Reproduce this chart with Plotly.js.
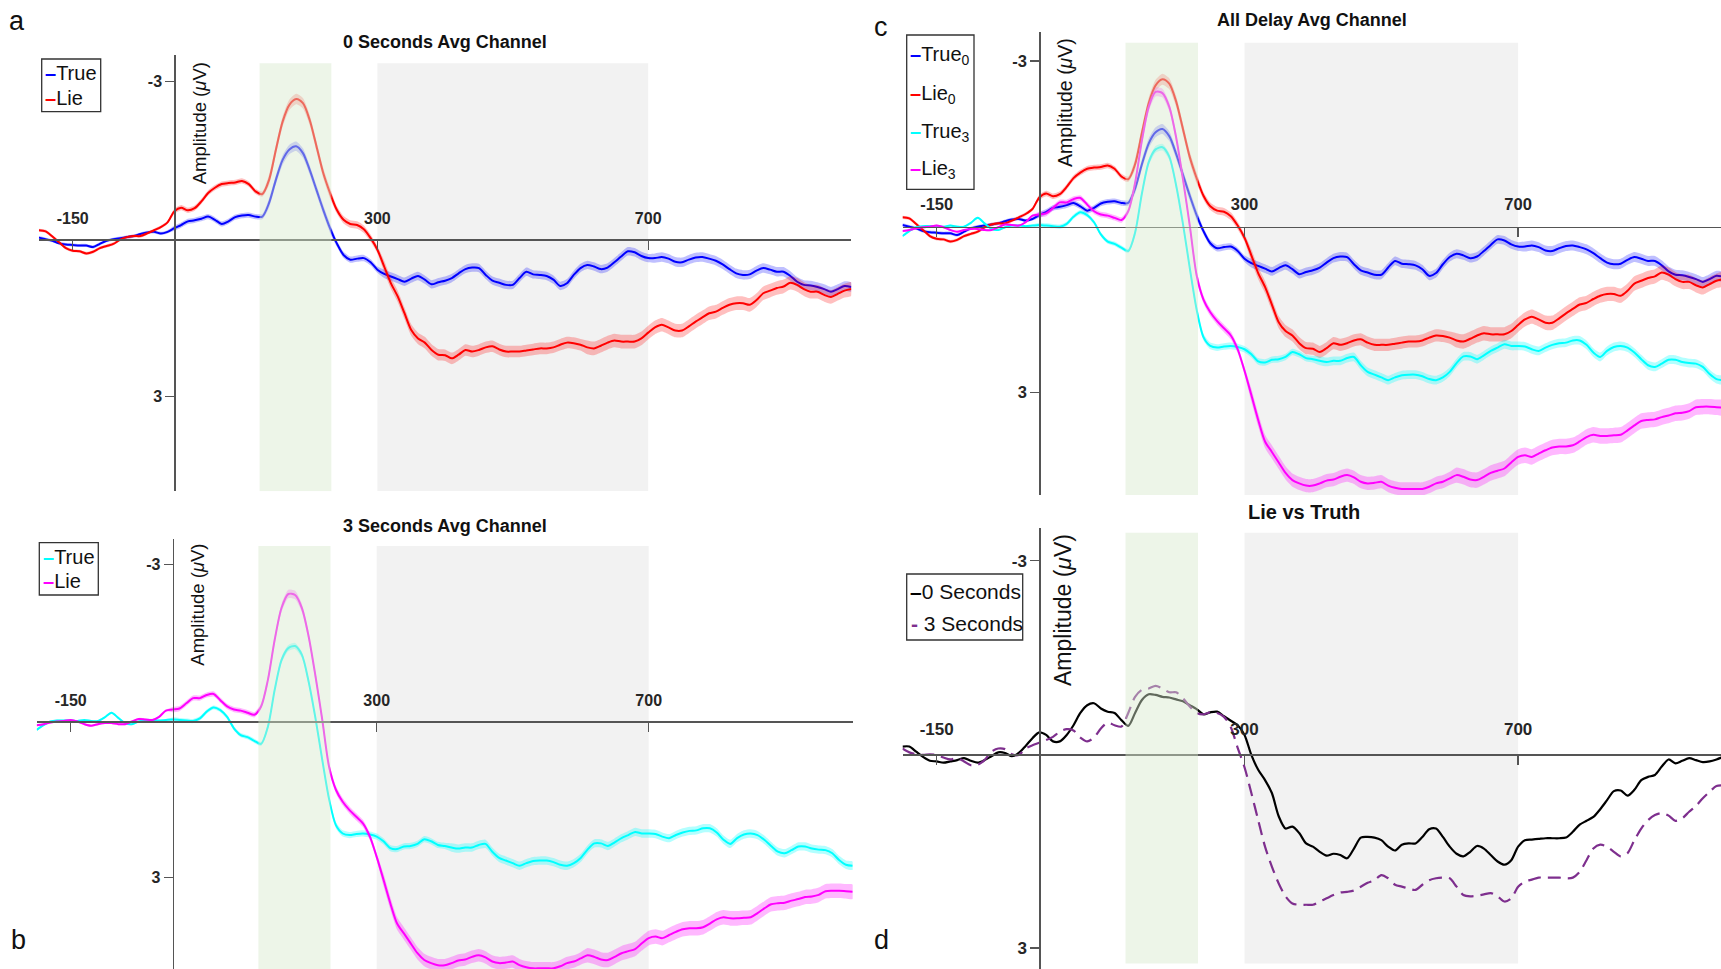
<!DOCTYPE html>
<html><head><meta charset="utf-8">
<script src="https://cdn.plot.ly/plotly-3.0.1.min.js"></script>
<style>html,body{margin:0;padding:0;background:#fff;}#chart{width:1721px;height:969px;}</style>
</head><body><div id="chart"></div>
<script>
// ---------- data ----------
const timeMs = [-200,-190,-180,-170,-160,-150,-140,-130,-120,-110,
 -100,-90,-80,-70,-60,-50,-40,-30,-20,-10,
 0,10,20,30,40,50,60,70,80,90,
 100,110,120,130,140,150,160,170,180,190,
 200,210,220,230,240,250,260,270,280,290,
 300,310,320,330,340,350,360,370,380,390,
 400,410,420,430,440,450,460,470,480,490,
 500,510,520,530,540,550,560,570,580,590,
 600,610,620,630,640,650,660,670,680,690,
 700,710,720,730,740,750,760,770,780,790,
 800,810,820,830,840,850,860,870,880,890,
 900,910,920,930,940,950,960,970,980,990,1000];

// 0 s delay, truthful (True0)
const true0 = [-0.03,0.00,0.03,0.08,0.10,0.11,0.12,0.12,0.15,0.09,
 0.03,0.00,-0.02,-0.04,-0.06,-0.10,-0.13,-0.14,-0.11,-0.14,
 -0.21,-0.27,-0.34,-0.36,-0.39,-0.43,-0.37,-0.29,-0.34,-0.42,
 -0.45,-0.46,-0.43,-0.43,-0.69,-1.13,-1.51,-1.71,-1.77,-1.64,
 -1.32,-0.94,-0.56,-0.21,0.08,0.30,0.39,0.37,0.36,0.44,
 0.58,0.66,0.71,0.76,0.81,0.75,0.70,0.77,0.86,0.82,
 0.79,0.74,0.65,0.57,0.54,0.55,0.68,0.79,0.83,0.87,
 0.87,0.74,0.62,0.67,0.68,0.70,0.77,0.89,0.84,0.68,
 0.55,0.49,0.52,0.57,0.54,0.44,0.33,0.23,0.25,0.32,
 0.36,0.36,0.34,0.37,0.43,0.44,0.39,0.35,0.34,0.37,
 0.41,0.48,0.57,0.65,0.68,0.67,0.60,0.55,0.58,0.62,
 0.62,0.70,0.81,0.87,0.88,0.91,0.95,1.00,0.95,0.89,0.91];
// 0 s delay, lie (Lie0)
const lie0 = [-0.17,-0.15,-0.05,0.06,0.17,0.22,0.23,0.27,0.24,0.17,
 0.13,0.09,0.01,-0.04,-0.06,-0.06,-0.11,-0.17,-0.23,-0.32,
 -0.53,-0.60,-0.55,-0.59,-0.72,-0.88,-0.98,-1.05,-1.07,-1.08,
 -1.11,-1.05,-0.91,-0.86,-1.13,-1.70,-2.24,-2.56,-2.67,-2.59,
 -2.27,-1.77,-1.26,-0.88,-0.56,-0.37,-0.29,-0.27,-0.19,-0.02,
 0.20,0.52,0.84,1.09,1.41,1.73,1.89,1.97,2.11,2.20,
 2.21,2.27,2.20,2.11,2.14,2.11,2.06,2.04,2.10,2.14,
 2.14,2.14,2.12,2.10,2.08,2.08,2.06,2.01,1.97,1.98,
 2.01,2.06,2.08,2.03,1.97,1.93,1.95,1.95,1.95,1.89,
 1.78,1.68,1.63,1.68,1.74,1.74,1.66,1.57,1.49,1.41,
 1.38,1.31,1.25,1.22,1.22,1.25,1.16,1.03,0.98,0.93,
 0.90,0.83,0.87,0.95,1.00,1.00,1.06,1.10,1.04,0.98,0.95];
// 3 s delay, truthful (True3)
const true3 = [0.17,0.08,0.01,-0.01,-0.01,-0.01,0.00,-0.02,0.00,0.00,
 -0.07,-0.16,-0.06,0.04,0.06,0.01,-0.02,-0.02,-0.01,-0.02,
 -0.03,-0.02,-0.01,0.00,-0.05,-0.18,-0.26,-0.21,-0.08,0.14,
 0.27,0.31,0.38,0.44,0.11,-0.60,-1.17,-1.40,-1.44,-1.27,
 -0.75,-0.05,0.75,1.50,2.00,2.16,2.19,2.17,2.16,2.18,
 2.22,2.31,2.44,2.46,2.41,2.40,2.36,2.27,2.31,2.38,
 2.40,2.43,2.45,2.43,2.43,2.38,2.36,2.51,2.63,2.68,
 2.73,2.78,2.73,2.69,2.68,2.68,2.71,2.76,2.78,2.73,
 2.63,2.47,2.35,2.35,2.40,2.33,2.25,2.19,2.13,2.16,
 2.16,2.17,2.22,2.25,2.19,2.14,2.11,2.10,2.06,2.06,
 2.14,2.28,2.36,2.25,2.18,2.16,2.19,2.28,2.40,2.51,
 2.54,2.48,2.41,2.41,2.45,2.47,2.48,2.54,2.67,2.76,2.78];
// 3 s delay, lie (Lie3)
const lie3 = [0.08,0.06,0.03,0.01,0.00,-0.02,0.01,0.06,0.09,0.06,
 0.04,0.04,0.06,0.06,0.01,-0.04,-0.03,-0.02,-0.08,-0.20,
 -0.22,-0.24,-0.34,-0.44,-0.44,-0.50,-0.52,-0.40,-0.28,-0.22,
 -0.20,-0.16,-0.12,-0.28,-0.79,-1.56,-2.17,-2.44,-2.42,-2.17,
 -1.62,-0.86,-0.02,0.88,1.32,1.55,1.71,1.84,1.97,2.22,
 2.61,3.05,3.50,3.89,4.08,4.27,4.46,4.59,4.65,4.69,
 4.69,4.65,4.60,4.58,4.53,4.50,4.54,4.62,4.65,4.64,
 4.62,4.69,4.73,4.75,4.75,4.75,4.75,4.71,4.65,4.62,
 4.56,4.50,4.53,4.58,4.59,4.53,4.46,4.42,4.38,4.27,
 4.17,4.14,4.17,4.11,4.05,4.00,3.98,3.98,3.96,3.89,
 3.81,3.77,3.79,3.79,3.78,3.77,3.69,3.60,3.52,3.50,
 3.49,3.45,3.42,3.38,3.37,3.34,3.27,3.26,3.26,3.27,3.28];

// half-widths of the shaded error bands
const semTrue0 = [0.03,0.03,0.03,0.03,0.03,0.03,0.03,0.03,0.03,0.03,
 0.03,0.03,0.03,0.03,0.03,0.03,0.03,0.03,0.03,0.03,
 0.05,0.05,0.05,0.05,0.05,0.05,0.05,0.05,0.05,0.05,
 0.05,0.05,0.05,0.05,0.09,0.09,0.09,0.09,0.09,0.09,
 0.09,0.09,0.09,0.09,0.06,0.06,0.06,0.06,0.06,0.06,
 0.06,0.08,0.08,0.08,0.08,0.08,0.08,0.08,0.08,0.08,
 0.08,0.08,0.08,0.08,0.08,0.08,0.08,0.08,0.08,0.08,
 0.08,0.08,0.08,0.08,0.08,0.08,0.08,0.08,0.08,0.08,
 0.08,0.08,0.08,0.08,0.08,0.08,0.08,0.08,0.08,0.08,
 0.08,0.09,0.09,0.09,0.09,0.09,0.09,0.09,0.09,0.09,
 0.09,0.09,0.09,0.09,0.09,0.09,0.09,0.09,0.09,0.09,
 0.09,0.09,0.09,0.09,0.09,0.09,0.09,0.09,0.09,0.09,0.09];
const semLie0 = [0.03,0.03,0.03,0.03,0.03,0.03,0.03,0.03,0.03,0.03,
 0.03,0.03,0.03,0.03,0.03,0.03,0.03,0.03,0.03,0.03,
 0.05,0.05,0.05,0.05,0.05,0.05,0.05,0.05,0.05,0.05,
 0.05,0.05,0.05,0.05,0.10,0.10,0.10,0.10,0.10,0.10,
 0.10,0.10,0.10,0.10,0.07,0.07,0.07,0.07,0.07,0.07,
 0.07,0.11,0.11,0.11,0.11,0.11,0.11,0.11,0.11,0.11,
 0.11,0.11,0.11,0.11,0.11,0.11,0.11,0.11,0.11,0.11,
 0.11,0.11,0.11,0.11,0.11,0.11,0.11,0.11,0.11,0.11,
 0.11,0.13,0.13,0.13,0.13,0.13,0.13,0.13,0.13,0.13,
 0.13,0.13,0.13,0.13,0.13,0.13,0.13,0.13,0.13,0.13,
 0.13,0.13,0.13,0.13,0.13,0.13,0.13,0.13,0.13,0.13,
 0.13,0.13,0.13,0.13,0.13,0.13,0.13,0.13,0.13,0.13,0.13];
const semTrue3 = [0.02,0.02,0.02,0.02,0.02,0.02,0.02,0.02,0.02,0.02,
 0.02,0.02,0.02,0.02,0.02,0.02,0.02,0.02,0.02,0.02,
 0.04,0.04,0.04,0.04,0.04,0.04,0.04,0.04,0.04,0.04,
 0.04,0.04,0.04,0.04,0.06,0.06,0.06,0.06,0.06,0.06,
 0.06,0.06,0.06,0.06,0.06,0.06,0.06,0.06,0.06,0.06,
 0.06,0.06,0.06,0.06,0.06,0.06,0.06,0.06,0.06,0.06,
 0.06,0.08,0.08,0.08,0.08,0.08,0.08,0.08,0.08,0.08,
 0.08,0.08,0.08,0.08,0.08,0.08,0.08,0.08,0.08,0.08,
 0.08,0.08,0.08,0.08,0.08,0.08,0.08,0.08,0.08,0.08,
 0.08,0.08,0.08,0.08,0.08,0.08,0.08,0.08,0.08,0.08,
 0.08,0.08,0.08,0.08,0.08,0.08,0.08,0.08,0.08,0.08,
 0.08,0.08,0.08,0.08,0.08,0.08,0.08,0.08,0.08,0.08,0.08];
const semLie3 = [0.02,0.02,0.02,0.02,0.02,0.02,0.02,0.02,0.02,0.02,
 0.02,0.02,0.02,0.02,0.02,0.02,0.02,0.02,0.02,0.02,
 0.05,0.05,0.05,0.05,0.05,0.05,0.05,0.05,0.05,0.05,
 0.05,0.05,0.05,0.05,0.08,0.08,0.08,0.08,0.08,0.08,
 0.08,0.08,0.08,0.08,0.07,0.07,0.07,0.07,0.07,0.07,
 0.07,0.12,0.12,0.12,0.12,0.12,0.12,0.12,0.12,0.12,
 0.12,0.12,0.12,0.12,0.12,0.12,0.12,0.12,0.12,0.12,
 0.12,0.12,0.12,0.12,0.12,0.12,0.12,0.12,0.12,0.12,
 0.12,0.14,0.14,0.14,0.14,0.14,0.14,0.14,0.14,0.14,
 0.14,0.14,0.14,0.14,0.14,0.14,0.14,0.14,0.14,0.14,
 0.14,0.14,0.14,0.14,0.14,0.14,0.14,0.14,0.14,0.14,
 0.14,0.14,0.14,0.14,0.14,0.14,0.14,0.14,0.14,0.14,0.14];

// Lie vs Truth difference waves
const diff0s = [-0.12,-0.12,-0.04,0.04,0.10,0.11,0.13,0.11,0.09,0.06,
 0.10,0.13,0.09,0.03,-0.03,-0.02,0.03,-0.02,-0.13,-0.25,
 -0.34,-0.30,-0.20,-0.20,-0.30,-0.45,-0.64,-0.76,-0.79,-0.71,
 -0.66,-0.64,-0.53,-0.44,-0.64,-0.84,-0.93,-0.92,-0.89,-0.88,
 -0.85,-0.82,-0.76,-0.70,-0.62,-0.65,-0.66,-0.59,-0.52,-0.45,
 -0.30,0.01,0.24,0.40,0.60,0.96,1.15,1.12,1.22,1.38,
 1.43,1.51,1.57,1.54,1.56,1.61,1.46,1.29,1.28,1.29,
 1.33,1.43,1.49,1.40,1.38,1.38,1.28,1.16,1.15,1.28,
 1.43,1.54,1.58,1.51,1.42,1.46,1.56,1.66,1.71,1.64,
 1.43,1.33,1.32,1.31,1.30,1.30,1.30,1.29,1.20,1.09,
 1.03,0.97,0.85,0.71,0.57,0.56,0.64,0.55,0.40,0.35,
 0.32,0.19,0.08,0.14,0.10,0.06,0.09,0.12,0.11,0.08,0.04];
const diff3s = [-0.09,-0.03,0.00,0.01,0.00,0.01,0.05,0.08,0.06,0.11,
 0.17,0.16,0.09,-0.04,-0.09,-0.08,0.00,0.01,-0.09,-0.14,
 -0.18,-0.22,-0.27,-0.35,-0.39,-0.37,-0.26,-0.20,-0.26,-0.40,
 -0.49,-0.45,-0.43,-0.64,-0.89,-1.00,-1.02,-1.06,-1.02,-0.96,
 -0.96,-0.87,-0.74,-0.64,-0.62,-0.65,-0.64,-0.58,-0.42,-0.10,
 0.20,0.60,1.02,1.43,1.74,2.00,2.20,2.31,2.33,2.33,
 2.33,2.28,2.23,2.18,2.14,2.13,2.11,2.05,1.99,1.95,
 1.87,1.92,2.02,2.05,2.08,2.10,2.02,1.95,1.92,1.91,
 1.92,2.05,2.18,2.20,2.19,2.17,2.15,2.20,2.28,2.23,
 2.05,1.97,1.94,1.91,1.91,1.91,1.91,1.92,1.91,1.82,
 1.64,1.46,1.40,1.43,1.51,1.58,1.53,1.33,1.15,1.02,
 0.94,0.91,0.95,1.03,0.99,0.89,0.80,0.68,0.58,0.49,0.48];

const xTickVals = [-150, 300, 700];
const xTickText = ['-150', '300', '700'];
const yTickVals = [-3, 3];
const yTickText = ['-3', '3'];
const earlyWindow = [126, 232];   // green shaded window (ms)
const lateWindow = [300, 700];    // gray shaded window (ms)

// ---------- layout / styling ----------
const W = 1721, H = 969;
const FONT = 'Liberation Sans, Arial, Helvetica, sans-serif';
const px = v => v / W, py = v => 1 - v / H;

const panels = [
  {sx:'', xr:[-200,1000], x0:38.9, x1:851.3, yr:[4.8,-3.5], top:55.45, bot:491.2, shade:[-3.35,4.8], tf:16, so:9},
  {sx:'2', xr:[-200,1000], x0:36.7, x1:852.7, yr:[4.763,-3.5], top:538.8, bot:969, shade:[-3.36,4.763], tf:16, so:9},
  {sx:'3', xr:[-200,996.6], x0:902.5, x1:1721, yr:[4.86,-3.53], top:31.8, bot:495, shade:[-3.33,4.86], tf:16.5, so:10},
  {sx:'4', xr:[-200,996.6], x0:902.5, x1:1721, yr:[3.325,-3.5], top:528.3, bot:969, shade:[-3.43,3.24], tf:17, so:13}
];

const layout = {
  width: W, height: H, margin:{l:0,r:0,t:0,b:0},
  paper_bgcolor:'#ffffff', plot_bgcolor:'rgba(0,0,0,0)',
  showlegend:false, shapes:[], annotations:[],
  font:{family:FONT, color:'#222'}
};

panels.forEach(p => {
  const xd = [px(p.x0), px(p.x1)];
  const yd = [py(p.bot), py(p.top)];
  const yZeroPos = yd[0] + (0 - p.yr[0]) / (p.yr[1] - p.yr[0]) * (yd[1] - yd[0]);
  const xZeroPos = xd[0] + (0 - p.xr[0]) / (p.xr[1] - p.xr[0]) * (xd[1] - xd[0]);
  const tickfont = {family:FONT, size:p.tf, color:'#262626', weight:'bold'};
  layout['xaxis' + p.sx] = {
    domain:xd, range:p.xr, anchor:'free', position:yZeroPos, side:'top',
    showline:true, linecolor:'#555', linewidth:1.5, showgrid:false, zeroline:false,
    ticks:'inside', ticklen:9, tickwidth:1.3, tickcolor:'#555',
    tickvals:xTickVals, ticktext:xTickText, tickfont:tickfont,
    ticklabelstandoff:p.so, fixedrange:true
  };
  layout['yaxis' + p.sx] = {
    domain:yd, range:p.yr, anchor:'free', position:xZeroPos, side:'left',
    showline:true, linecolor:'#555', linewidth:1.5, showgrid:false, zeroline:false,
    ticks:'outside', ticklen:9, tickwidth:1.3, tickcolor:'#555',
    tickvals:yTickVals, ticktext:yTickText, tickfont:tickfont, fixedrange:true
  };
  const xr = 'x' + p.sx, yr = 'y' + p.sx;
  layout.shapes.push({type:'rect', xref:xr, yref:yr, x0:lateWindow[0], x1:lateWindow[1],
    y0:p.shade[0], y1:p.shade[1], fillcolor:'#f2f2f2', line:{width:0}, layer:'below'});
  layout.shapes.push({type:'rect', xref:xr, yref:yr, x0:earlyWindow[0], x1:earlyWindow[1],
    y0:p.shade[0], y1:p.shade[1], fillcolor:'rgb(214,232,204)', opacity:0.45, line:{width:0}, layer:'above'});
});

// ---------- traces ----------
const traces = [];
function shaded(mean, sem, lineColor, bandColor, sx) {
  const upper = mean.map((v, i) => v - sem[i]);
  const lower = mean.map((v, i) => v + sem[i]);
  traces.push({x: timeMs.concat(timeMs.slice().reverse()), y: upper.concat(lower.slice().reverse()),
    mode:'lines', fill:'toself', fillcolor:bandColor, line:{width:0, shape:'spline', smoothing:0.6},
    hoverinfo:'skip', xaxis:'x' + sx, yaxis:'y' + sx, showlegend:false});
  traces.push({x: timeMs, y: mean, mode:'lines', line:{color:lineColor, width:2, shape:'spline', smoothing:0.8},
    xaxis:'x' + sx, yaxis:'y' + sx, showlegend:false});
}
const C = {blue:'#0000ff', red:'#ff0000', cyan:'#00ffff', mag:'#ff00ff'};
const B = {blue:'rgba(0,0,255,0.25)', red:'rgba(255,0,0,0.25)', cyan:'rgba(0,255,255,0.3)', mag:'rgba(255,0,255,0.28)'};
// a
shaded(true0, semTrue0, C.blue, B.blue, '');
shaded(lie0, semLie0, C.red, B.red, '');
// b
shaded(true3, semTrue3, C.cyan, B.cyan, '2');
shaded(lie3, semLie3, C.mag, B.mag, '2');
// c
shaded(true0, semTrue0, C.blue, B.blue, '3');
shaded(lie0, semLie0, C.red, B.red, '3');
shaded(true3, semTrue3, C.cyan, B.cyan, '3');
shaded(lie3, semLie3, C.mag, B.mag, '3');
// d
traces.push({x:timeMs, y:diff0s, mode:'lines', line:{color:'#000000', width:2.2, shape:'spline', smoothing:0.8}, xaxis:'x4', yaxis:'y4', showlegend:false});
traces.push({x:timeMs, y:diff3s, mode:'lines', line:{color:'#7e2f8e', width:2.2, dash:'13px,7px', shape:'spline', smoothing:0.8}, xaxis:'x4', yaxis:'y4', showlegend:false});

// ---------- text: titles, panel letters, y-axis titles, legends ----------
function ann(text, x, y, opts) {
  layout.annotations.push(Object.assign({text:text, x:px(x), y:py(y), xref:'paper', yref:'paper',
    showarrow:false, xanchor:'center', yanchor:'middle', font:{family:FONT, size:16, color:'#111'}}, opts || {}));
}
ann('<b>0 Seconds Avg Channel</b>', 444.5, 41.7, {font:{family:FONT, size:18, color:'#111'}});
ann('<b>3 Seconds Avg Channel</b>', 444.5, 526, {font:{family:FONT, size:18, color:'#111'}});
ann('<b>All Delay Avg Channel</b>', 1311.6, 19.5, {font:{family:FONT, size:18, color:'#111'}});
ann('<b>Lie vs Truth</b>', 1304, 512.3, {font:{family:FONT, size:20, color:'#111'}});

ann('a', 16.5, 21, {font:{family:FONT, size:27, color:'#111'}});
ann('b', 18.7, 940, {font:{family:FONT, size:27, color:'#111'}});
ann('c', 881.4, 27, {font:{family:FONT, size:27, color:'#111'}});
ann('d', 881.4, 940, {font:{family:FONT, size:27, color:'#111'}});

const ampLabel = 'Amplitude (<i>μ</i>V)';
ann(ampLabel, 199, 123.3, {textangle:-90, font:{family:FONT, size:18.5, color:'#111'}});
ann(ampLabel, 196.7, 605, {textangle:-90, font:{family:FONT, size:18.5, color:'#111'}});
ann(ampLabel, 1065, 103, {textangle:-90, font:{family:FONT, size:19.5, color:'#111'}});
ann(ampLabel, 1063, 610, {textangle:-90, font:{family:FONT, size:23, color:'#111'}});

function legendBox(x0, y0, x1, y1) {
  layout.shapes.push({type:'rect', xref:'paper', yref:'paper', x0:px(x0), x1:px(x1), y0:py(y1), y1:py(y0),
    fillcolor:'#ffffff', line:{color:'#333', width:1.3}, layer:'above'});
}
function legendItem(color, label, x, y, size) {
  ann('<span style="color:' + color + '"><b>–</b></span>' + label, x, y,
    {xanchor:'left', font:{family:FONT, size:size, color:'#111'}});
}
// a
legendBox(41.7, 59, 100.7, 111.7);
legendItem(C.blue, 'True', 42.5, 73.5, 20);
legendItem(C.red, 'Lie', 42.5, 98.5, 20);
// b
legendBox(39.3, 542.7, 98.3, 595);
legendItem(C.cyan, 'True', 40.5, 556.5, 20);
legendItem(C.mag, 'Lie', 40.5, 581, 20);
// c
legendBox(906.7, 35, 974, 189.3);
legendItem(C.blue, 'True<sub>0</sub>', 907.5, 56, 20);
legendItem(C.red, 'Lie<sub>0</sub>', 907.5, 94, 20);
legendItem(C.cyan, 'True<sub>3</sub>', 907.5, 132, 20);
legendItem(C.mag, 'Lie<sub>3</sub>', 907.5, 169.5, 20);
// d
legendBox(906.7, 574, 1022.7, 640);
legendItem('#000000', '0 Seconds', 907.5, 591.5, 21);
ann('<span style="color:#7e2f8e"><b>-</b></span> 3 Seconds', 909, 623, {xanchor:'left', font:{family:FONT, size:21, color:'#111'}});

Plotly.newPlot('chart', traces, layout, {staticPlot:true, displayModeBar:false});
</script>
</body></html>
